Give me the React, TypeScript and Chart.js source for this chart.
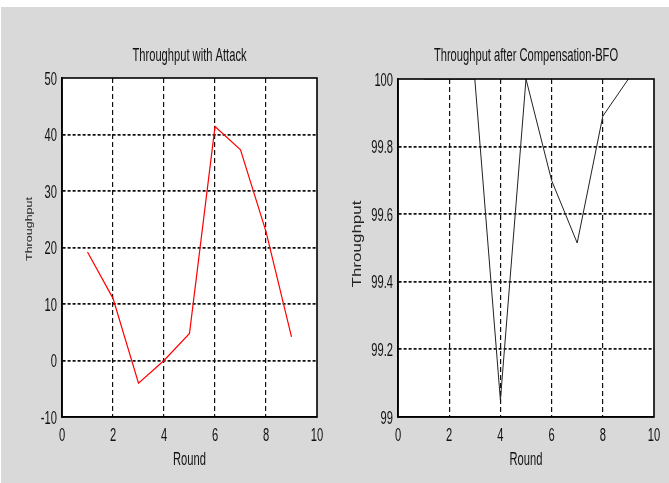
import React, { useEffect, useRef } from "react";
import { Chart, registerables } from "chart.js";

Chart.register(...registerables);

// ---- data ----
const rounds = [1, 2, 3, 4, 5, 6, 7, 8, 9];
const attackThroughput = [19.2, 11.0, -4.0, 0.0, 4.8, 41.4, 37.3, 22.8, 4.2];
const bfoThroughput = [100, 100, 100, 99.05, 100, 99.7, 99.515, 99.89, 100];

const xTicks = [0, 2, 4, 6, 8, 10];
const attackYTicks = [-10, 0, 10, 20, 30, 40, 50];
const bfoYTicks = [99, 99.2, 99.4, 99.6, 99.8, 100];
const attackYLabels = ["-10", "0", "10", "20", "30", "40", "50"];
const bfoYLabels = ["99", "99.2", "99.4", "99.6", "99.8", "100"];
const xLabels = ["0", "2", "4", "6", "8", "10"];

const leftTitle = "Throughput with Attack";
const rightTitle = "Throughput after Compensation-BFO";
const xLabel = "Round";
const yLabel = "Throughput";

const FONT = "'Liberation Sans', Arial, sans-serif";
const H = 483;
const SX = 0.62;

type Panel = {
  canvasLeft: number;
  width: number;
  plotLeft: number;
  plotRight: number;
  top: number;
  bottom: number;
  title: string;
  yTicks: number[];
  yLabels: string[];
  data: number[];
  color: string;
  lineWidth: number;
  yTitleX: number;
  yTitleY: number;
  yTitleSize: number;
};

const panels: Panel[] = [
  {
    canvasLeft: 0, width: 334, plotLeft: 62, plotRight: 317, top: 78, bottom: 417,
    title: leftTitle, yTicks: attackYTicks, yLabels: attackYLabels, data: attackThroughput,
    color: "#ff0000", lineWidth: 1.2,
    yTitleX: 30, yTitleY: 229, yTitleSize: 12.5,
  },
  {
    canvasLeft: 334, width: 335, plotLeft: 64, plotRight: 320, top: 79, bottom: 417,
    title: rightTitle, yTicks: bfoYTicks, yLabels: bfoYLabels, data: bfoThroughput,
    color: "#222222", lineWidth: 1,
    yTitleX: 24, yTitleY: 244, yTitleSize: 17,
  },
];

function scaledText(
  ctx: CanvasRenderingContext2D,
  text: string,
  x: number,
  y: number,
  align: CanvasTextAlign,
  size: number,
  sx: number
) {
  ctx.save();
  ctx.translate(x, y);
  ctx.scale(sx, 1);
  ctx.font = `${size}px ${FONT}`;
  ctx.textAlign = align;
  ctx.textBaseline = "alphabetic";
  ctx.fillText(text, 0, 0);
  ctx.restore();
}

const decorPlugin = {
  id: "decor",
  beforeDraw(chart: any) {
    const { ctx, chartArea: a } = chart;
    ctx.save();
    ctx.fillStyle = "#ffffff";
    ctx.fillRect(a.left, a.top, a.width, a.height);
    ctx.restore();
  },
  afterDraw(chart: any, _a: any, opts: any) {
    const { ctx, chartArea: a } = chart;
    ctx.save();
    ctx.strokeStyle = "#000";
    ctx.lineWidth = 1.6;
    ctx.strokeRect(a.left, a.top, a.width, a.height);
    ctx.fillStyle = "#111";
    const cx = (a.left + a.right) / 2;
    // chart title
    scaledText(ctx, opts.title, cx, 61, "center", 18, SX);
    // x axis title
    scaledText(ctx, opts.xTitle, cx, 465, "center", 18, SX);
    // tick labels from the library's scales
    const xs = chart.scales.x;
    opts.xTicks.forEach((v: number, i: number) => {
      scaledText(ctx, opts.xLabels[i], xs.getPixelForValue(v), 441, "center", 18, SX);
    });
    const ys = chart.scales.y;
    opts.yTicks.forEach((v: number, i: number) => {
      scaledText(ctx, opts.yLabels[i], a.left - 5, ys.getPixelForValue(v) + 6.5, "right", 18, SX);
    });
    // y axis title (rotated)
    ctx.translate(opts.yTitleX, opts.yTitleY);
    ctx.rotate(-Math.PI / 2);
    ctx.scale(1, 0.72);
    ctx.font = `${opts.yTitleSize}px ${FONT}`;
    ctx.textAlign = "center";
    ctx.textBaseline = "middle";
    ctx.fillStyle = "#222";
    ctx.fillText(opts.yTitle, 0, 0);
    ctx.restore();
  },
};

function PanelChart({ p }: { p: Panel }) {
  const ref = useRef<HTMLCanvasElement | null>(null);
  useEffect(() => {
    if (!ref.current) return;
    const yMin = p.yTicks[0];
    const yMax = p.yTicks[p.yTicks.length - 1];
    const chart = new Chart(ref.current, {
      type: "line",
      data: {
        labels: rounds,
        datasets: [
          {
            data: rounds.map((r, i) => ({ x: r, y: p.data[i] })),
            borderColor: p.color,
            borderWidth: p.lineWidth,
            pointRadius: 0,
            fill: false,
            tension: 0,
          },
        ],
      },
      options: {
        responsive: false,
        animation: false,
        devicePixelRatio: 1,
        layout: { padding: { left: 0, right: p.width - p.plotRight, top: p.top, bottom: 0 } },
        plugins: {
          legend: { display: false },
          tooltip: { enabled: false },
          title: { display: false },
          decor: {
            title: p.title,
            xTitle: xLabel,
            yTitle: yLabel,
            yTitleX: p.yTitleX,
            yTitleY: p.yTitleY,
            yTitleSize: p.yTitleSize,
            xTicks,
            xLabels,
            yTicks: p.yTicks,
            yLabels: p.yLabels,
          },
        } as any,
        scales: {
          x: {
            type: "linear",
            min: xTicks[0],
            max: xTicks[xTicks.length - 1],
            afterBuildTicks: (s: any) => {
              s.ticks = xTicks.map((v) => ({ value: v }));
            },
            afterFit: (s: any) => {
              s.height = H - p.bottom;
            },
            ticks: { display: false, autoSkip: false },
            grid: {
              drawTicks: false,
              lineWidth: 1.2,
              color: (c: any) =>
                c.tick && (c.tick.value === xTicks[0] || c.tick.value === xTicks[xTicks.length - 1])
                  ? "rgba(0,0,0,0)"
                  : "#111",
            },
            border: { display: true, color: "#000", width: 1.6, dash: [5, 3] },
          },
          y: {
            type: "linear",
            min: yMin,
            max: yMax,
            afterBuildTicks: (s: any) => {
              s.ticks = p.yTicks.map((v) => ({ value: v }));
            },
            afterFit: (s: any) => {
              s.width = p.plotLeft;
            },
            ticks: { display: false, autoSkip: false },
            grid: {
              drawTicks: false,
              lineWidth: 1.8,
              color: (c: any) =>
                c.tick && (c.tick.value === yMin || c.tick.value === yMax) ? "rgba(0,0,0,0)" : "#111",
            },
            border: { display: true, color: "#000", width: 1.6, dash: [3, 2] },
          },
        },
      },
      plugins: [decorPlugin],
    } as any);
    return () => chart.destroy();
  }, [p]);
  return (
    <canvas
      ref={ref}
      width={p.width}
      height={H}
      style={{ position: "absolute", left: p.canvasLeft, top: 0, width: p.width, height: H }}
    />
  );
}

export default function App() {
  useEffect(() => {
    document.body.style.margin = "0";
  }, []);
  return (
    <div style={{ position: "absolute", left: 0, top: 0, width: 669, height: H, background: "#ffffff", overflow: "hidden" }}>
      <div style={{ position: "absolute", left: 1, top: 7, right: 0, bottom: 0, background: "#d9d9d9" }} />
      {panels.map((p, i) => (
        <PanelChart key={i} p={p} />
      ))}
    </div>
  );
}
